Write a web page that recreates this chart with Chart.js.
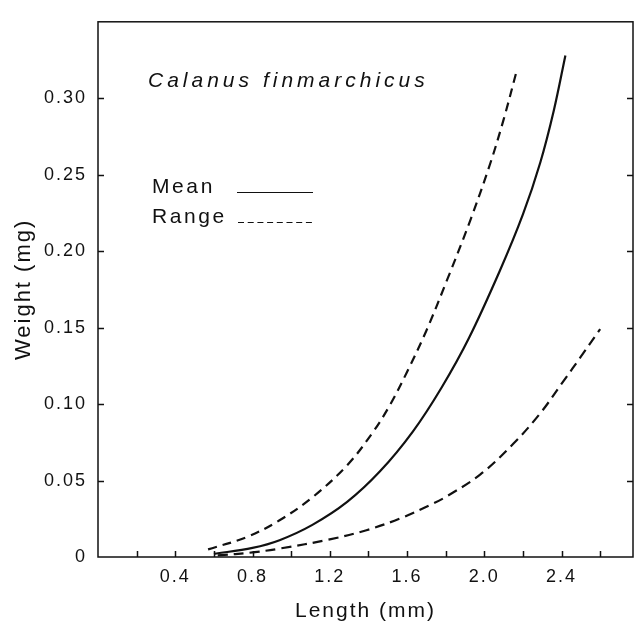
<!DOCTYPE html>
<html lang="en">
<head>
  <meta charset="UTF-8">
  <title>Calanus finmarchicus - length vs weight</title>
  <script src="https://cdn.jsdelivr.net/npm/chart.js"></script>
  <style>
    body { margin: 0; background: #fff; }
    canvas { display: block; }
  </style>
</head>
<body>
  <canvas id="lwChart" width="637" height="624"></canvas>

  <script>
    // values: length (mm) -> weight (mg)
    const meanLength  = [0.60, 0.80, 0.94, 1.11, 1.29, 1.46, 1.63, 1.78, 1.92, 2.08, 2.20, 2.29, 2.36, 2.42];
    const meanWeight  = [0.002, 0.006, 0.011, 0.021, 0.036, 0.056, 0.082, 0.111, 0.143, 0.187, 0.224, 0.258, 0.292, 0.328];

    const upperLength = [0.57, 0.77, 0.94, 1.11, 1.29, 1.42, 1.51, 1.60, 1.70, 1.81, 1.93, 2.03, 2.10, 2.17];
    const upperWeight = [0.005, 0.013, 0.024, 0.039, 0.060, 0.081, 0.099, 0.121, 0.148, 0.182, 0.221, 0.257, 0.286, 0.319];

    const lowerLength = [0.62, 0.80, 0.94, 1.20, 1.39, 1.56, 1.72, 1.81, 1.98, 2.15, 2.29, 2.41, 2.50, 2.60];
    const lowerWeight = [0.001, 0.003, 0.0055, 0.0115, 0.0175, 0.025, 0.034, 0.040, 0.054, 0.074, 0.094, 0.115, 0.131, 0.149];

    // axes
    const lengthMarks = [0.2, 0.4, 0.6, 0.8, 1.0, 1.2, 1.4, 1.6, 1.8, 2.0, 2.2, 2.4, 2.6];
    const lengthTicks = [0.4, 0.8, 1.2, 1.6, 2.0, 2.4];
    const lengthTickLabels = ['0.4', '0.8', '1.2', '1.6', '2.0', '2.4'];
    const weightTicks = [0, 0.05, 0.10, 0.15, 0.20, 0.25, 0.30];
    const weightTickLabels = ['0', '0.05', '0.10', '0.15', '0.20', '0.25', '0.30'];

    const ink = '#111';
    const family = "'Liberation Sans', Arial, sans-serif";

    function toPoints(xs, ys) {
      return xs.map((x, i) => ({ x: x, y: ys[i] }));
    }

    // old typeset look: spread letters a bit
    const spacing = {
      id: 'spacing',
      beforeLayout(chart) { chart.ctx.letterSpacing = '2px'; },
      beforeDraw(chart) { chart.ctx.letterSpacing = '2px'; }
    };

    // box, inward ticks, species name and the little key
    const frame = {
      id: 'frame',
      afterDraw(chart) {
        const c = chart.ctx;
        const a = chart.chartArea;
        const xs = chart.scales.x;
        const ys = chart.scales.y;
        c.save();
        c.strokeStyle = ink;
        c.lineWidth = 1.5;
        c.setLineDash([]);
        c.strokeRect(a.left, a.top, a.right - a.left, a.bottom - a.top);

        c.beginPath();
        lengthMarks.forEach(v => {
          const px = Math.round(xs.getPixelForValue(v)) + 0.5;
          c.moveTo(px, a.bottom);
          c.lineTo(px, a.bottom - 6);
        });
        weightTicks.slice(1).forEach(v => {
          const py = Math.round(ys.getPixelForValue(v)) + 0.5;
          c.moveTo(a.left, py);
          c.lineTo(a.left + 6, py);
          c.moveTo(a.right, py);
          c.lineTo(a.right - 6, py);
        });
        c.stroke();

        c.fillStyle = ink;
        c.textAlign = 'left';
        c.textBaseline = 'alphabetic';
        c.font = 'italic 21px ' + family;
        c.letterSpacing = '4px';
        c.fillText('Calanus finmarchicus', 148, 87);

        c.font = '21px ' + family;
        c.letterSpacing = '2.6px';
        c.fillText('Mean', 152, 193);
        c.fillText('Range', 152, 223);

        c.lineWidth = 1.2;
        c.beginPath();
        c.moveTo(237, 192.5);
        c.lineTo(313, 192.5);
        c.stroke();
        c.setLineDash([6, 3.7]);
        c.beginPath();
        c.moveTo(238, 222.5);
        c.lineTo(313, 222.5);
        c.stroke();
        c.restore();
      }
    };

    const lineStyle = {
      showLine: true,
      fill: false,
      borderColor: ink,
      borderWidth: 2.2,
      pointRadius: 0,
      tension: 0.35
    };

    new Chart(document.getElementById('lwChart'), {
      type: 'scatter',
      data: {
        datasets: [
          Object.assign({ label: 'Mean', data: toPoints(meanLength, meanWeight) }, lineStyle),
          Object.assign({ label: 'Range (upper)', data: toPoints(upperLength, upperWeight), borderDash: [9, 6] }, lineStyle),
          Object.assign({ label: 'Range (lower)', data: toPoints(lowerLength, lowerWeight), borderDash: [10, 6] }, lineStyle)
        ]
      },
      options: {
        responsive: false,
        animation: false,
        devicePixelRatio: 1,
        layout: { padding: { left: 0, top: 13, right: 4, bottom: 0 } },
        plugins: {
          legend: { display: false },
          tooltip: { enabled: false }
        },
        scales: {
          x: {
            type: 'linear',
            min: 0,
            max: 2.77,
            border: { display: false },
            grid: { display: false, drawTicks: false },
            afterBuildTicks: s => { s.ticks = lengthTicks.map(v => ({ value: v })); },
            afterFit: s => { s.height = 67; },
            ticks: {
              autoSkip: false,
              maxRotation: 0,
              padding: 9,
              color: ink,
              font: { family: family, size: 18 },
              callback: (v, i) => lengthTickLabels[i]
            },
            title: {
              display: true,
              text: 'Length (mm)',
              color: ink,
              font: { family: family, size: 21 },
              padding: { top: 0, bottom: 0 }
            }
          },
          y: {
            type: 'linear',
            min: 0,
            max: 0.35,
            border: { display: false },
            grid: { display: false, drawTicks: false },
            afterBuildTicks: s => { s.ticks = weightTicks.map(v => ({ value: v })); },
            afterFit: s => { s.width = 98; },
            ticks: {
              autoSkip: false,
              padding: 11,
              color: ink,
              font: { family: family, size: 18 },
              callback: (v, i) => weightTickLabels[i]
            },
            title: {
              display: true,
              text: 'Weight (mg)',
              color: ink,
              font: { family: family, size: 22 },
              padding: { top: 11, bottom: 0 }
            }
          }
        }
      },
      plugins: [spacing, frame]
    });
  </script>
</body>
</html>
